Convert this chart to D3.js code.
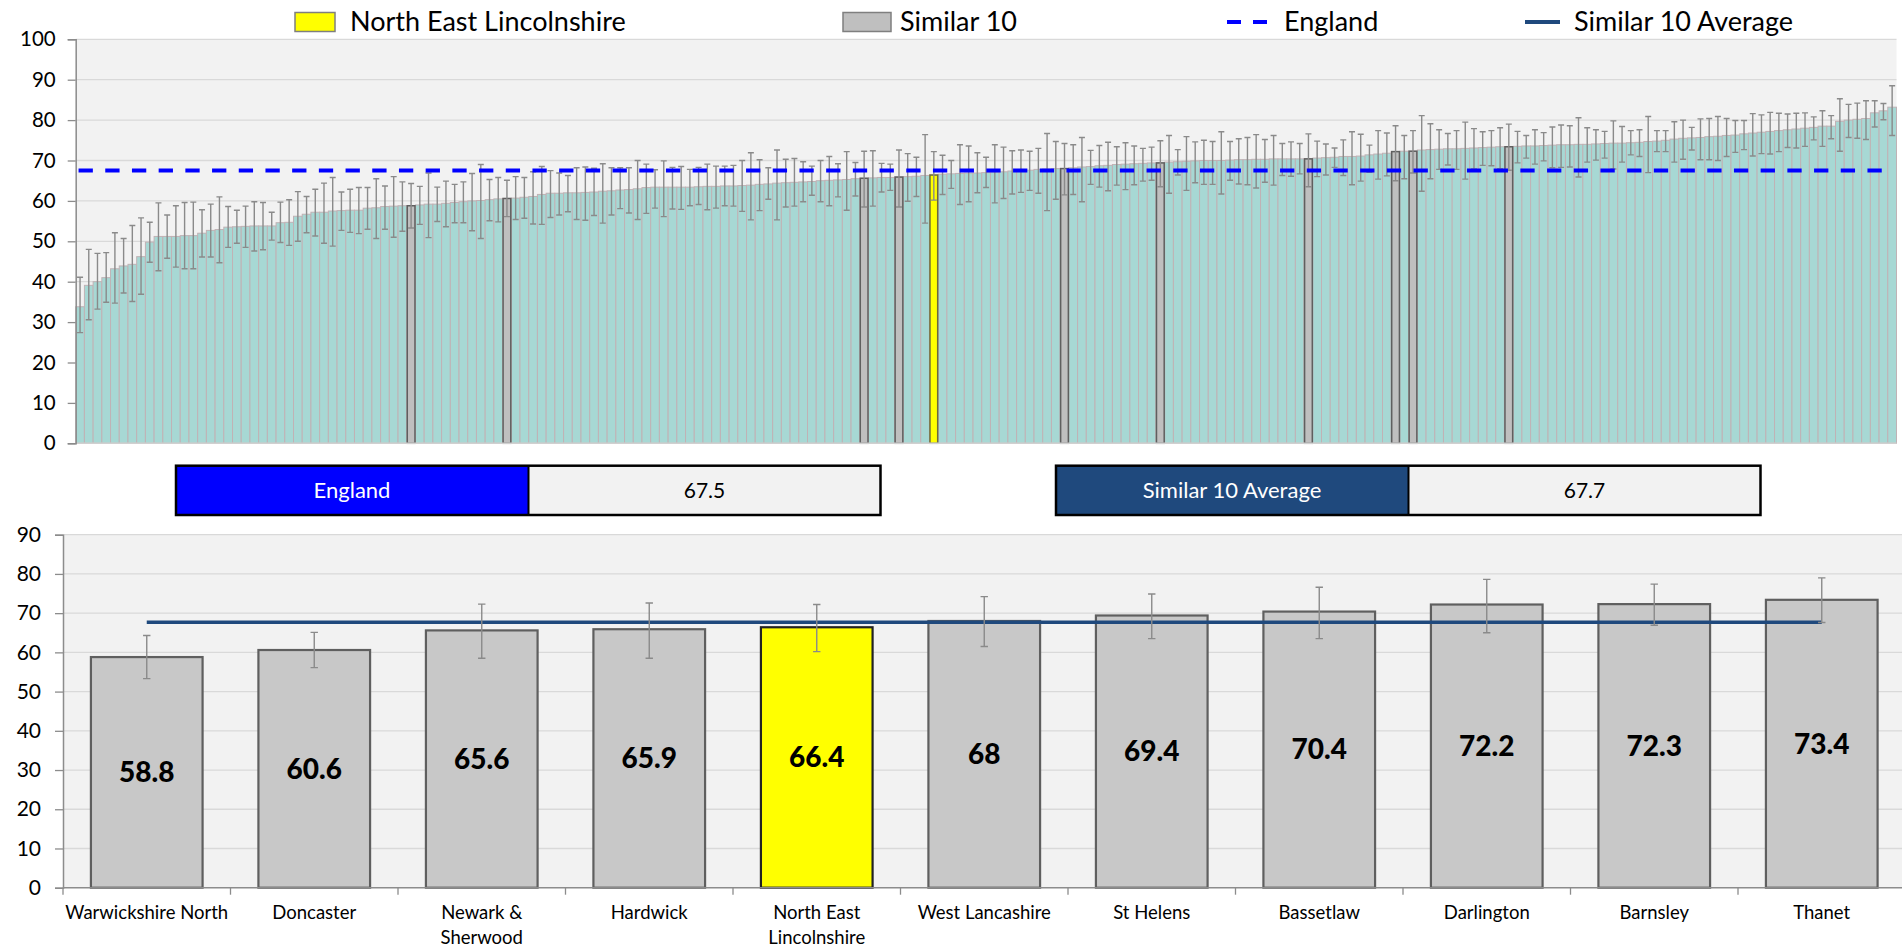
<!DOCTYPE html>
<html>
<head>
<meta charset="utf-8">
<script src="https://cdn.jsdelivr.net/npm/d3@7"></script>
<style>
  html, body { margin: 0; padding: 0; background: #ffffff; }
  svg { display: block; font-family: Lato, "Open Sans", "Liberation Sans", sans-serif; }
</style>
</head>
<body>
<svg id="chart" width="1902" height="949"></svg>
<script>
// ---------------- DATA ----------------
// All areas (sorted ascending) – value, lower CI, upper CI
const allValues = [
33.8,39.1,40.0,41.0,43.2,43.9,44.3,46.2,49.8,51.2,
51.2,51.2,51.4,51.4,52.0,52.7,52.9,53.5,53.6,53.7,
53.8,53.8,53.8,54.6,54.7,56.2,56.7,57.2,57.2,57.5,
57.6,57.7,57.7,58.2,58.3,58.6,58.7,58.8,58.8,59.0,
59.2,59.2,59.4,59.6,59.8,60.0,60.1,60.3,60.5,60.6,
60.7,60.9,61.1,61.6,61.9,61.9,62.0,62.0,62.1,62.2,
62.4,62.5,62.7,62.8,63.0,63.3,63.4,63.4,63.4,63.4,
63.4,63.5,63.6,63.6,63.7,63.7,63.8,63.9,64.1,64.2,
64.4,64.5,64.6,64.7,64.8,65.0,65.1,65.2,65.3,65.5,
65.6,65.7,65.8,65.8,65.9,66.0,66.1,66.3,66.4,66.6,
66.7,66.8,66.9,66.9,67.0,67.1,67.2,67.4,67.5,67.6,
67.8,67.9,68.0,68.0,68.2,68.4,68.5,68.7,68.8,69.0,
69.1,69.2,69.3,69.4,69.4,69.6,69.7,69.8,69.9,70.0,
70.0,70.0,70.1,70.2,70.2,70.3,70.3,70.4,70.4,70.4,
70.4,70.4,70.6,70.7,70.8,71.0,71.0,71.1,71.4,71.6,
71.8,72.2,72.3,72.3,72.6,72.7,72.8,72.9,72.9,73.0,
73.1,73.2,73.3,73.4,73.4,73.5,73.6,73.6,73.7,73.8,
73.9,73.9,74.0,74.0,74.1,74.2,74.3,74.3,74.4,74.5,
74.7,74.8,75.0,75.3,75.5,75.6,75.7,75.9,76.0,76.2,
76.3,76.6,76.8,77.0,77.2,77.4,77.6,77.8,78.0,78.2,
78.5,78.5,79.7,80.0,80.2,80.4,81.8,82.3,83.2
];
const allLower = [
27.4,30.6,33.2,34.9,34.7,37.2,35.1,36.9,44.8,42.7,
45.8,43.6,43.2,43.2,46.1,46.1,44.7,48.5,49.5,48.5,
47.6,47.9,50.3,49.7,49.0,50.0,52.1,51.3,49.5,48.8,
52.7,52.2,51.9,53.0,50.7,53.0,51.0,52.5,53.3,54.2,
50.9,54.9,53.6,54.6,54.6,52.6,50.7,55.1,54.8,56.1,
55.4,55.7,54.3,54.2,55.9,56.5,57.3,55.4,55.2,56.4,
54.5,56.5,58.1,57.0,55.4,56.9,58.2,56.1,58.0,57.9,
58.8,59.1,57.8,58.2,58.8,58.7,57.4,55.3,57.6,60.4,
55.3,58.5,58.7,59.8,61.4,59.8,58.8,61.0,57.7,61.2,
58.5,58.7,62.2,62.6,58.5,59.9,61.1,54.5,60.2,61.6,
63.1,59.1,59.8,62.0,63.3,59.5,60.6,61.7,62.1,62.6,
61.9,57.6,60.4,61.5,61.6,59.8,64.1,63.4,62.5,63.9,
62.8,64.0,64.9,65.1,63.5,61.9,66.4,62.6,64.5,64.1,
64.1,61.7,65.1,64.2,64.0,63.2,64.6,63.9,66.3,66.1,
66.7,63.5,66.0,66.4,68.3,66.3,64.0,64.9,67.1,65.4,
66.2,65.0,65.5,66.9,62.4,65.5,67.8,68.9,67.8,65.4,
67.9,68.8,68.7,68.0,67.8,69.4,70.6,69.1,69.9,68.2,
68.3,68.4,65.9,69.6,70.1,70.6,67.9,69.6,71.4,71.0,
67.0,72.2,72.2,69.6,70.3,72.6,70.2,70.2,70.0,71.0,
72.0,72.7,71.1,71.7,71.6,72.2,73.2,73.1,73.5,75.1,
73.5,75.4,72.3,75.7,75.5,75.2,78.3,80.1,76.2
];
const allUpper = [
41.1,48.0,47.0,47.2,52.1,50.7,53.9,55.8,54.7,59.5,
56.5,58.8,59.6,59.7,57.8,59.2,61.0,58.6,57.7,58.7,
59.8,59.6,57.2,59.7,60.3,62.3,61.1,62.9,64.4,65.8,
62.2,62.9,63.3,63.3,65.5,63.7,66.0,64.7,64.3,63.6,
66.9,63.4,64.9,64.1,64.7,66.8,69.0,65.3,65.8,65.1,
66.0,65.8,67.2,68.5,67.5,66.9,66.3,68.2,68.4,68.1,
69.2,68.2,68.2,68.2,70.0,69.1,67.7,69.9,68.3,68.5,
67.8,68.3,69.1,68.6,68.6,68.8,70.0,71.9,70.2,68.2,
72.6,70.3,70.5,69.7,68.6,70.0,71.0,69.2,72.2,69.5,
72.3,72.4,69.3,69.1,72.6,71.7,70.8,76.4,72.2,71.3,
70.0,73.9,73.6,71.9,70.8,73.9,73.3,72.4,72.6,72.3,
73.0,76.7,74.7,74.2,73.9,75.7,72.5,73.7,74.5,73.4,
74.4,73.6,73.0,73.3,74.9,76.2,72.7,75.9,74.6,75.0,
74.7,77.1,74.7,75.4,75.7,76.4,75.2,76.2,74.2,74.6,
74.2,76.6,74.8,74.1,73.1,75.1,77.1,76.5,73.8,77.4,
76.8,78.6,76.2,77.4,81.1,79.1,77.6,76.7,77.4,79.5,
77.9,77.1,77.4,78.1,79.0,77.2,76.2,77.6,76.9,78.3,
78.8,78.6,80.6,78.1,77.6,77.2,79.8,78.4,77.4,77.6,
80.9,77.4,77.4,79.6,80.0,78.2,80.3,80.4,80.9,80.4,
79.9,79.9,81.6,81.3,81.9,81.7,81.5,81.7,81.8,80.8,
82.3,81.1,85.3,83.9,84.2,84.8,84.8,84.1,88.5
];

// Similar 10 + North East Lincolnshire
const similarNames = ["Warwickshire North","Doncaster","Newark & Sherwood","Hardwick","North East Lincolnshire","West Lancashire","St Helens","Bassetlaw","Darlington","Barnsley","Thanet"];
const similarLabelLines = [["Warwickshire North"],["Doncaster"],["Newark &","Sherwood"],["Hardwick"],["North East","Lincolnshire"],["West Lancashire"],["St Helens"],["Bassetlaw"],["Darlington"],["Barnsley"],["Thanet"]];
const similarValues = [58.8,60.6,65.6,65.9,66.4,68,69.4,70.4,72.2,72.3,73.4];
const similarLower  = [53.3,56.1,58.5,58.5,60.2,61.5,63.5,63.5,65.0,66.9,67.6];
const similarUpper  = [64.3,65.1,72.3,72.6,72.2,74.2,74.9,76.6,78.6,77.4,79.0];
const similarRank   = [38,49,90,94,98,113,124,141,151,153,164];  // position in the sorted list of all areas
const focusArea = "North East Lincolnshire";

const englandValue = 67.5;
const similarAverage = 67.7;

const topTicks = [0,10,20,30,40,50,60,70,80,90,100];
const bottomTicks = [0,10,20,30,40,50,60,70,80,90];
const legendLabels = ["North East Lincolnshire","Similar 10","England","Similar 10 Average"];

// ---------------- STYLE ----------------
const C = {
  teal: "#a7d8d4", tealStroke: "#c0b2b5",
  grey: "#c8c8c8", greyStroke: "#5f5f5f",
  yellow: "#ffff00",
  err: "#8a8a8a", grid: "#d9d9d9", plotBg: "#f2f2f2", axis: "#8c8c8c",
  england: "#0000ff", avg: "#1f497d"
};

const svg = d3.select("#chart");
svg.append("rect").attr("width",1902).attr("height",949).attr("fill","#fff");

// ---------------- LEGEND ----------------
const lg = svg.append("g").attr("font-size", 27).attr("fill", "#000");
lg.append("rect").attr("x",295).attr("y",12.5).attr("width",40).attr("height",19).attr("fill",C.yellow).attr("stroke","#7f7f7f").attr("stroke-width",1.5);
lg.append("text").attr("x",350).attr("y",22).attr("dy","0.35em").text(legendLabels[0]);
lg.append("rect").attr("x",843).attr("y",12.5).attr("width",48).attr("height",19).attr("fill","#bfbfbf").attr("stroke","#7f7f7f").attr("stroke-width",1.5);
lg.append("text").attr("x",900).attr("y",22).attr("dy","0.35em").text(legendLabels[1]);
lg.append("line").attr("x1",1227).attr("x2",1268).attr("y1",22).attr("y2",22).attr("stroke",C.england).attr("stroke-width",4).attr("stroke-dasharray","14,12");
lg.append("text").attr("x",1284).attr("y",22).attr("dy","0.35em").text(legendLabels[2]);
lg.append("line").attr("x1",1525).attr("x2",1560).attr("y1",22).attr("y2",22).attr("stroke",C.avg).attr("stroke-width",4);
lg.append("text").attr("x",1574).attr("y",22).attr("dy","0.35em").text(legendLabels[3]);

// ---------------- TOP CHART ----------------
const topL = 75.7, topR = 1896.5, topT = 39.3, topB = 443.3;
const xTop = d3.scaleBand().domain(d3.range(allValues.length)).range([topL, topR]).padding(0);
const yTop = d3.scaleLinear().domain([0,100]).range([topB, topT]);
const gTop = svg.append("g");

gTop.append("rect").attr("x",topL).attr("y",topT).attr("width",topR-topL).attr("height",topB-topT).attr("fill",C.plotBg);
gTop.append("g").selectAll("line").data(topTicks.filter(d=>d>0)).join("line")
  .attr("x1",topL).attr("x2",topR).attr("y1",d=>yTop(d)).attr("y2",d=>yTop(d))
  .attr("stroke",C.grid).attr("stroke-width",1.3);

// all bars
gTop.append("g").selectAll("rect").data(allValues).join("rect")
  .attr("x",(d,i)=>xTop(i)).attr("width",xTop.bandwidth())
  .attr("y",d=>yTop(d)).attr("height",d=>topB-yTop(d))
  .attr("fill",C.teal).attr("stroke",C.tealStroke).attr("stroke-width",1);

// highlighted bars
const simData = similarNames.map((n,i)=>({name:n, v:similarValues[i], lo:similarLower[i], hi:similarUpper[i], rank:similarRank[i]}));
gTop.append("g").selectAll("rect").data(simData).join("rect")
  .attr("x",d=>xTop(d.rank)+0.5).attr("width",xTop.bandwidth()-1)
  .attr("y",d=>yTop(d.v)).attr("height",d=>topB-yTop(d.v))
  .attr("fill",d=>d.name===focusArea?C.yellow:"#bfbfbf")
  .attr("stroke",d=>d.name===focusArea?"#6b6b3a":C.greyStroke).attr("stroke-width",1.5);

// error bars (all)
const errTop = gTop.append("g").attr("stroke",C.err).attr("stroke-width",1.4).attr("fill","none");
const topErr = allValues.map((v,i)=>{
  const s = similarRank.indexOf(i);
  return s>=0 ? {i, lo:similarLower[s], hi:similarUpper[s]} : {i, lo:allLower[i], hi:allUpper[i]};
});
const cx = i => xTop(i) + xTop.bandwidth()/2;
errTop.selectAll("path").data(topErr).join("path")
  .attr("d", d => `M${cx(d.i)},${yTop(d.lo)}V${yTop(d.hi)}M${cx(d.i)-3},${yTop(d.hi)}H${cx(d.i)+3}M${cx(d.i)-3},${yTop(d.lo)}H${cx(d.i)+3}`);

// England line
gTop.append("line").attr("x1",cx(0)-1.5).attr("x2",cx(allValues.length-1)).attr("y1",yTop(englandValue)).attr("y2",yTop(englandValue))
  .attr("stroke",C.england).attr("stroke-width",4).attr("stroke-dasharray","14.3,12.4");

// axes
gTop.append("line").attr("x1",topL).attr("x2",topR).attr("y1",topB).attr("y2",topB).attr("stroke","#d0d0d0").attr("stroke-width",1.5);
const yAxisTop = d3.axisLeft(yTop).tickValues(topTicks).tickSize(8).tickPadding(12).tickFormat(d3.format("d"));
const ga = svg.append("g").attr("transform",`translate(${topL},0)`).call(yAxisTop);
ga.select(".domain").attr("stroke",C.axis).attr("stroke-width",1.5);
ga.selectAll(".tick line").attr("stroke",C.axis).attr("stroke-width",1.3);
ga.selectAll(".tick text").attr("font-size",20.5).attr("fill","#000").attr("font-family","Lato, sans-serif");

// ---------------- INFO BOXES ----------------
function infoBox(x0, label, value, col) {
  const g = svg.append("g");
  g.append("rect").attr("x",x0).attr("y",465.7).attr("width",352.5).attr("height",49.3).attr("fill",col);
  g.append("rect").attr("x",x0+352.5).attr("y",465.7).attr("width",352).attr("height",49.3).attr("fill","#f2f2f2");
  g.append("rect").attr("x",x0).attr("y",465.7).attr("width",704.5).attr("height",49.3).attr("fill","none").attr("stroke","#000").attr("stroke-width",2.5);
  g.append("line").attr("x1",x0+352.5).attr("x2",x0+352.5).attr("y1",465.7).attr("y2",515).attr("stroke","#000").attr("stroke-width",2);
  g.append("text").attr("x",x0+176).attr("y",490.5).attr("dy","0.35em").attr("text-anchor","middle").attr("font-size",22).attr("fill","#fff").text(label);
  g.append("text").attr("x",x0+528.5).attr("y",490.5).attr("dy","0.35em").attr("text-anchor","middle").attr("font-size",21).attr("fill","#000").text(value.toFixed(1));
}
infoBox(176, "England", englandValue, "#0000ff");
infoBox(1056, "Similar 10 Average", similarAverage, "#1f497d");

// ---------------- BOTTOM CHART ----------------
const botL = 63, botR = 1905.5, botT = 534.7, botB = 887.7;
const xBot = d3.scaleBand().domain(similarNames).range([botL, botR]).paddingInner(1/3).paddingOuter(1/6);
const yBot = d3.scaleLinear().domain([0,90]).range([botB, botT]);
const gBot = svg.append("g");
gBot.append("rect").attr("x",botL).attr("y",botT).attr("width",botR-botL).attr("height",botB-botT).attr("fill",C.plotBg);
gBot.append("g").selectAll("line").data(bottomTicks.filter(d=>d>0)).join("line")
  .attr("x1",botL).attr("x2",botR).attr("y1",d=>yBot(d)).attr("y2",d=>yBot(d))
  .attr("stroke",C.grid).attr("stroke-width",1.3);

gBot.append("g").selectAll("rect").data(simData).join("rect")
  .attr("x",d=>xBot(d.name)).attr("width",xBot.bandwidth())
  .attr("y",d=>yBot(d.v)).attr("height",d=>botB-yBot(d.v))
  .attr("fill",d=>d.name===focusArea?C.yellow:C.grey)
  .attr("stroke",d=>d.name===focusArea?"#222":C.greyStroke).attr("stroke-width",2.2);

// average line
gBot.append("line")
  .attr("x1",xBot(similarNames[0])+xBot.bandwidth()/2).attr("x2",xBot(similarNames[similarNames.length-1])+xBot.bandwidth()/2)
  .attr("y1",yBot(similarAverage)).attr("y2",yBot(similarAverage))
  .attr("stroke",C.avg).attr("stroke-width",3.5);

// error bars
const bcx = d => xBot(d.name)+xBot.bandwidth()/2;
gBot.append("g").attr("stroke",C.err).attr("stroke-width",1.4).attr("fill","none")
  .selectAll("path").data(simData).join("path")
  .attr("d", d => `M${bcx(d)},${yBot(d.lo)}V${yBot(d.hi)}M${bcx(d)-3.7},${yBot(d.hi)}H${bcx(d)+3.7}M${bcx(d)-3.7},${yBot(d.lo)}H${bcx(d)+3.7}`);

// data labels
gBot.append("g").selectAll("text").data(simData).join("text")
  .attr("x",bcx).attr("y",d=>yBot(d.v/2)).attr("dy","0.35em").attr("text-anchor","middle")
  .attr("font-size",28).attr("font-weight","900").attr("fill","#000")
  .text(d=>d3.format("~g")(d.v));

// axes
const yAxisBot = d3.axisLeft(yBot).tickValues(bottomTicks).tickSize(8).tickPadding(14).tickFormat(d3.format("d"));
const gb = svg.append("g").attr("transform",`translate(${botL},0)`).call(yAxisBot);
gb.select(".domain").attr("stroke",C.axis).attr("stroke-width",1.5);
gb.selectAll(".tick line").attr("stroke",C.axis).attr("stroke-width",1.3);
gb.selectAll(".tick text").attr("font-size",21).attr("fill","#000").attr("font-family","Lato, sans-serif");

gBot.append("line").attr("x1",botL).attr("x2",botR).attr("y1",botB).attr("y2",botB).attr("stroke",C.axis).attr("stroke-width",1.5);
const step = xBot.step();
gBot.append("g").selectAll("line").data(d3.range(similarNames.length+1)).join("line")
  .attr("x1",i=>botL+i*step).attr("x2",i=>botL+i*step).attr("y1",botB).attr("y2",botB+7)
  .attr("stroke",C.axis).attr("stroke-width",1.3);

const lbl = gBot.append("g").attr("font-size",18.5).attr("fill","#000").attr("text-anchor","middle");
simData.forEach((d,i)=>{
  const t = lbl.append("text").attr("x",bcx(d)).attr("y",919);
  similarLabelLines[i].forEach((line,k)=>{
    t.append("tspan").attr("x",bcx(d)).attr("dy",k===0?0:25).text(line);
  });
});
</script>
</body>
</html>
